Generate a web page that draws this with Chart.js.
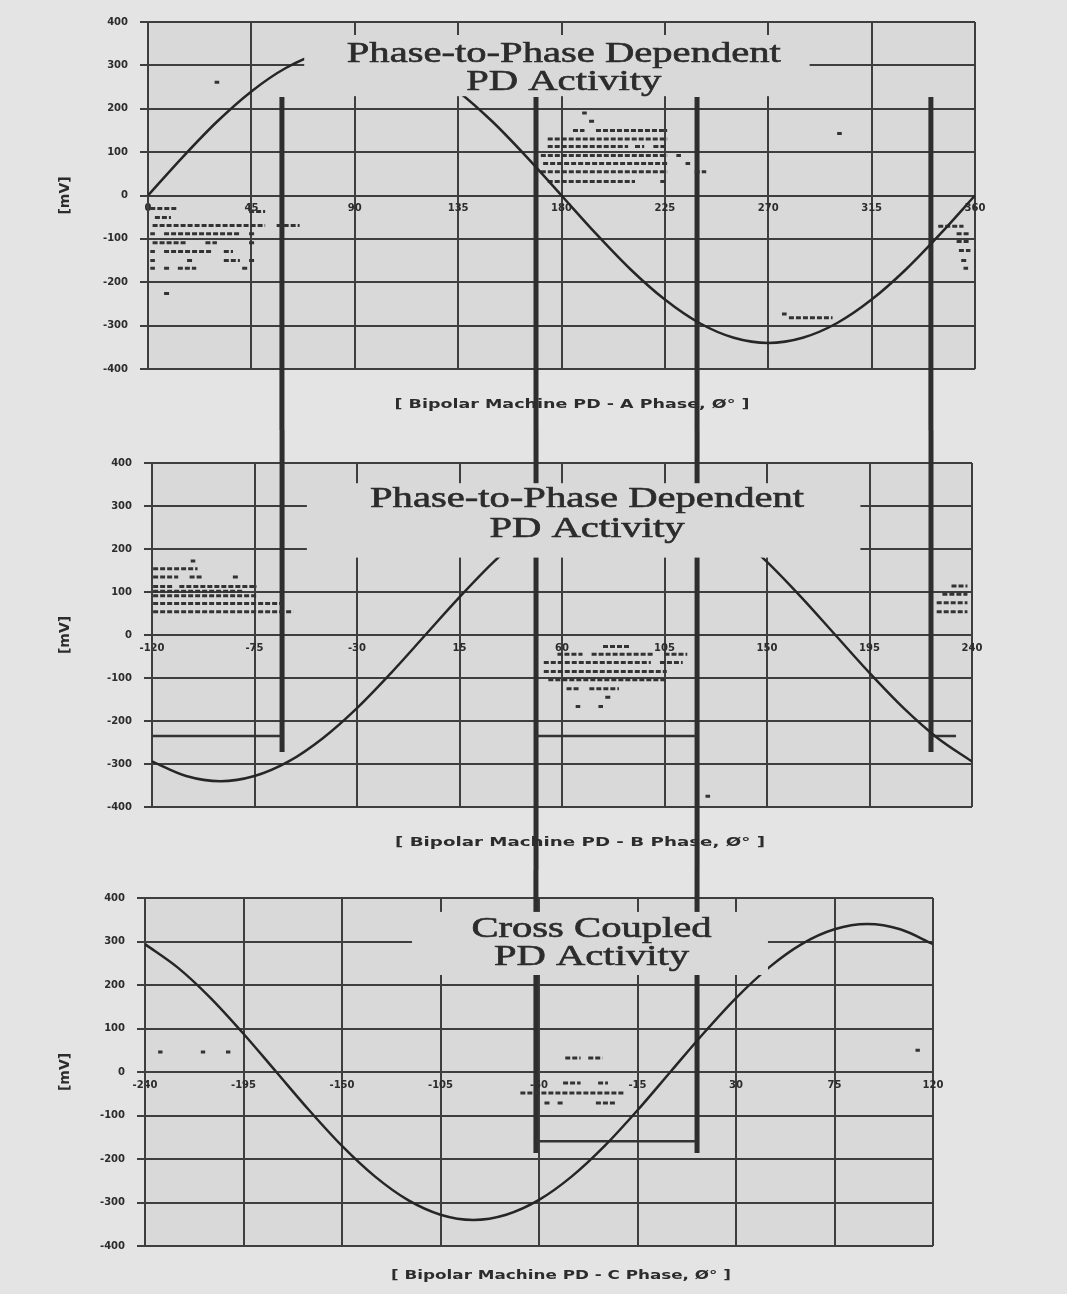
<!DOCTYPE html>
<html>
<head>
<meta charset="utf-8">
<title>PD Activity</title>
<script src="https://cdn.jsdelivr.net/npm/chart.js@4.4.1/dist/chart.umd.min.js"></script>
<style>
  html, body { margin: 0; padding: 0; background: #e4e4e4; }
  .panel { position: absolute; left: 0; width: 1067px; }
  .panel canvas { display: block; }
</style>
</head>
<body>
<div class="panel" style="top:0;height:430px"><canvas id="chartA" width="1067" height="430"></canvas></div>
<div class="panel" style="top:430px;height:440px"><canvas id="chartB" width="1067" height="440"></canvas></div>
<div class="panel" style="top:870px;height:424px"><canvas id="chartC" width="1067" height="424"></canvas></div>
<script>
// ---- data ----
const yTicks = [-400, -300, -200, -100, 0, 100, 200, 300, 400];
const ticksA = [0, 45, 90, 135, 180, 225, 270, 315, 360];
const ticksB = [-120, -75, -30, 15, 60, 105, 150, 195, 240];
const ticksC = [-240, -195, -150, -105, -60, -15, 30, 75, 120];

// supply voltage traces (mV), every 15 deg
const phaseA = [0, 15, 30, 45, 60, 75, 90, 105, 120, 135, 150, 165, 180, 195, 210, 225, 240, 255, 270, 285, 300, 315, 330, 345, 360];
const waveA  = [0, 88, 170, 240, 294, 328, 340, 328, 294, 240, 170, 88, 0, -88, -170, -240, -294, -328, -340, -328, -294, -240, -170, -88, 0];
const phaseB = [-120, -105, -90, -75, -60, -45, -30, -15, 0, 15, 30, 45, 60, 75, 90, 105, 120, 135, 150, 165, 180, 195, 210, 225, 240];
const waveB  = [-294, -328, -340, -328, -294, -240, -170, -88, 0, 88, 170, 240, 294, 328, 340, 328, 294, 240, 170, 88, 0, -88, -170, -240, -294];
const phaseC = [-240, -225, -210, -195, -180, -165, -150, -135, -120, -105, -90, -75, -60, -45, -30, -15, 0, 15, 30, 45, 60, 75, 90, 105, 120];
const waveC  = [294, 240, 170, 88, 0, -88, -170, -240, -294, -328, -340, -328, -294, -240, -170, -88, 0, 88, 170, 240, 294, 328, 340, 328, 294];

// PD pulse rows: [mV, from deg, to deg]
const dashesA = [
  [-30, 1, 13], [-37, 44, 51], [-51, 3, 10], [-69, 2, 51], [-69, 56, 66],
  [-88, 1, 3], [-88, 7, 40], [-88, 44, 47], [-109, 2, 17], [-109, 25, 30], [-109, 44, 47],
  [-129, 1, 3], [-129, 7, 28], [-129, 33, 37], [-150, 1, 3], [-150, 17, 20], [-150, 33, 40], [-150, 44, 47],
  [-168, 1, 3], [-168, 7, 10], [-168, 13, 21], [-168, 41, 44], [-226, 7, 10],
  [261, 29, 31], [143, 300, 302], [-273, 276, 278], [-282, 279, 298],
  [190, 189, 191], [171, 192, 195], [150, 185, 190], [150, 195, 226], [130, 174, 226],
  [113, 174, 209], [113, 212, 216], [113, 220, 225], [92, 171, 226], [92, 230, 232],
  [74, 172, 226], [74, 234, 236], [55, 171, 226], [55, 238, 243], [32, 174, 212], [32, 223, 225],
  [-71, 344, 355], [-88, 352, 358], [-106, 352, 358], [-127, 353, 358], [-150, 354, 357], [-168, 355, 357]
];
const dashesB = [
  [172, -103, -101], [154, -119.5, -100], [135, -119.5, -108.5], [135, -103.5, -97.5], [135, -84.5, -81.5],
  [113, -119.5, -111], [113, -108, -74], [102, -119.5, -80], [91, -119.5, -74], [73, -119.5, -63], [54, -119.5, -58],
  [-27, 78, 90], [-45, 58, 69], [-45, 73, 100], [-45, 105, 115], [-64, 52, 99], [-64, 103, 113],
  [-85, 52, 106], [-104, 54, 106], [-125, 62, 68], [-125, 72, 85], [-145, 79, 82], [-166, 66, 68], [-166, 76, 78],
  [114, 231, 238], [95, 227, 238], [75, 224.5, 238], [54, 224.5, 238],
  [196, 123, 125], [-375, 123, 125]
];
const dashesC = [
  [46, -234, -232], [46, -214.5, -212.5], [46, -203, -201], [50, 112, 114],
  [32, -48, -41], [32, -37.5, -31], [-25, -49, -41], [-25, -33, -28.5],
  [-48, -68.5, -21], [-71, -57.5, -55], [-71, -51.5, -49], [-71, -34, -25]
];

// heavy phase markers running through the panels: [deg, from mV, to mV]
const guidesA = [[58.3, 227, -600], [168.9, 227, -600], [239, 227, -600], [340.8, 227, -600]];
const guidesB = [[-62.9, 600, -272], [48.6, 600, -600], [119.3, 600, -600], [222, 600, -272]];
const guidesC = [[-61.4, 600, -186], [12.2, 600, -186]];
// window bottoms: [mV, from deg, to deg]
const bracketsB = [[-235, -120, -62.9], [-235, 48.6, 119.3], [-235, 222, 233]];
const bracketsC = [[-159, -61.4, 12.2]];

// ---- drawing ----
const INK = '#2c2c2c';
const GRID = '#3e3e3e';
const PLOT_BG = '#d9d9d9';
Chart.defaults.font.family = '"DejaVu Sans", sans-serif';
Chart.defaults.color = INK;

function rowPoints(rows) {
  const pts = [];
  rows.forEach(([y, x0, x1]) => pts.push({x: x0, y: y}, {x: x1, y: y}, {x: x1, y: null}));
  return pts;
}
function guidePoints(guides) {
  const pts = [];
  guides.forEach(([x, y0, y1]) => pts.push({x: x, y: y0}, {x: x, y: y1}, {x: x, y: null}));
  return pts;
}

// plot background, title box and caption
function decor(cfg) {
  return {
    id: 'decor',
    beforeDraw(chart) {
      const {ctx, chartArea: a} = chart;
      ctx.save();
      ctx.fillStyle = PLOT_BG;
      ctx.fillRect(a.left, a.top, a.width, a.height);
      ctx.restore();
    },
    afterDatasetsDraw(chart) {
      const {ctx, scales: {x, y}} = chart;
      const x0 = x.getPixelForValue(cfg.box[0]), x1 = x.getPixelForValue(cfg.box[1]);
      const y0 = y.getPixelForValue(cfg.box[3]), y1 = y.getPixelForValue(cfg.box[2]);
      ctx.save();
      ctx.fillStyle = PLOT_BG;
      ctx.fillRect(x0, y0, x1 - x0, y1 - y0);
      ctx.font = '29px "Liberation Serif", serif';
      ctx.fillStyle = INK;
      ctx.strokeStyle = INK;
      ctx.lineWidth = 0.6;
      ctx.textAlign = 'center';
      ctx.textBaseline = 'alphabetic';
      const cx = x.getPixelForValue(cfg.titleAt[0]);
      cfg.title.forEach((t, i) => {
        ctx.save();
        ctx.translate(cx, y.getPixelForValue(cfg.titleAt[i + 1]));
        ctx.scale(1.4, 1);
        ctx.fillText(t, 0, 0);
        ctx.strokeText(t, 0, 0);
        ctx.restore();
      });
      ctx.restore();
    },
    afterDraw(chart) {
      const ctx = chart.ctx;
      ctx.save();
      ctx.font = 'bold 12px "DejaVu Sans", sans-serif';
      ctx.fillStyle = INK;
      ctx.textAlign = 'center';
      ctx.textBaseline = 'middle';
      const sx = cfg.captionWidth / ctx.measureText(cfg.caption).width;
      ctx.translate(cfg.captionX, chart.chartArea.bottom + cfg.captionDy);
      ctx.scale(sx, 1);
      ctx.fillText(cfg.caption, 0, 0);
      ctx.restore();
    }
  };
}

function buildChart(id, cfg) {
  new Chart(document.getElementById(id), {
    type: 'scatter',
    data: {
      datasets: [
        {
          data: cfg.phase.map((p, i) => ({x: p, y: cfg.wave[i]})),
          showLine: true, borderColor: '#262626', borderWidth: 2.5,
          pointRadius: 0, cubicInterpolationMode: 'monotone'
        },
        {
          data: rowPoints(cfg.dashes),
          showLine: true, borderColor: '#333', borderWidth: 3, borderDash: [5, 2],
          pointRadius: 0, spanGaps: false
        },
        {
          data: rowPoints(cfg.brackets),
          showLine: true, borderColor: '#333', borderWidth: 2.5,
          pointRadius: 0, spanGaps: false
        },
        {
          data: guidePoints(cfg.guides),
          showLine: true, borderColor: '#2e2e2e', borderWidth: 5,
          pointRadius: 0, spanGaps: false, clip: false
        }
      ]
    },
    options: {
      responsive: false,
      animation: false,
      layout: { padding: cfg.pad },
      plugins: { legend: { display: false }, tooltip: { enabled: false } },
      scales: {
        x: {
          type: 'linear',
          min: cfg.ticks[0], max: cfg.ticks[cfg.ticks.length - 1],
          position: { y: 0 },
          afterBuildTicks: s => { s.ticks = cfg.ticks.map(v => ({value: v})); },
          grid: { color: GRID, lineWidth: 2, drawTicks: false },
          border: { color: GRID, width: 2 },
          ticks: { padding: 7, autoSkip: false, maxRotation: 0, font: { size: 10, weight: 'bold' } }
        },
        y: {
          min: -400, max: 400,
          afterBuildTicks: s => { s.ticks = yTicks.map(v => ({value: v})); },
          afterFit: s => { s.width = cfg.yWidth; },
          grid: { color: GRID, lineWidth: 2, tickLength: 8 },
          border: { color: GRID, width: 2 },
          ticks: { padding: 12, font: { size: 10, weight: 'bold' } },
          title: { display: true, text: '[mV]', font: { size: 14, weight: 'bold' }, padding: { top: 57, bottom: 0 } }
        }
      }
    },
    plugins: [decor(cfg)]
  });
}

buildChart('chartA', {
  ticks: ticksA, phase: phaseA, wave: waveA, dashes: dashesA, guides: guidesA, brackets: [],
  pad: { left: 0, top: 22, right: 92, bottom: 61 }, yWidth: 148,
  box: [68, 288, 229, 370],
  title: ['Phase-to-Phase Dependent', 'PD Activity'], titleAt: [181, 308, 243],
  caption: '[ Bipolar Machine PD - A Phase, \u00D8\u00B0 ]', captionX: 572, captionDy: 36, captionWidth: 355
});
buildChart('chartB', {
  ticks: ticksB, phase: phaseB, wave: waveB, dashes: dashesB, guides: guidesB, brackets: bracketsB,
  pad: { left: 0, top: 33, right: 95, bottom: 63 }, yWidth: 152,
  box: [-52, 191, 180, 353],
  title: ['Phase-to-Phase Dependent', 'PD Activity'], titleAt: [71, 298, 228],
  caption: '[ Bipolar Machine PD - B Phase, \u00D8\u00B0 ]', captionX: 580, captionDy: 36, captionWidth: 370
});
buildChart('chartC', {
  ticks: ticksC, phase: phaseC, wave: waveC, dashes: dashesC, guides: guidesC, brackets: bracketsC,
  pad: { left: 0, top: 28, right: 134, bottom: 48 }, yWidth: 145,
  box: [-118, 44.6, 223, 368],
  title: ['Cross Coupled', 'PD Activity'], titleAt: [-36, 310, 246],
  caption: '[ Bipolar Machine PD - C Phase, \u00D8\u00B0 ]', captionX: 561, captionDy: 30, captionWidth: 340
});
</script>
</body>
</html>
